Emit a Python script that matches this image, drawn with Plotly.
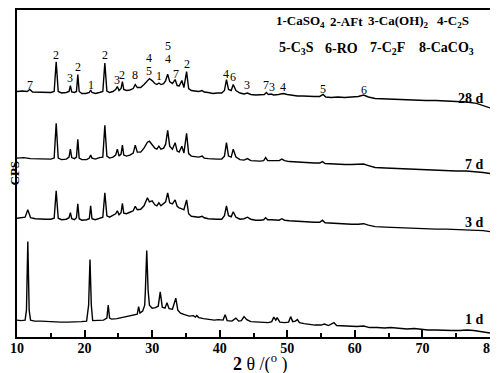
import plotly.graph_objects as go

# 2-theta (deg) and intensity (CPS, already stacked) for each curing age
x_28d = [10.0, 10.8, 11.5, 11.9, 12.3, 13.0, 14.0, 15.0, 15.5, 15.8, 16.1, 16.6, 17.3, 17.7, 17.9, 18.1,
         18.5, 18.8, 19.0, 19.2, 19.6, 20.2, 20.7, 20.9, 21.1, 21.6, 22.2, 22.7, 23.0, 23.3, 23.7, 24.2,
         24.6, 24.85, 25.1, 25.4, 25.6, 25.8, 26.2, 26.7, 27.2, 27.5, 27.8, 28.3, 28.8, 29.3, 29.6, 30.0,
         30.4, 30.7, 31.0, 31.3, 31.7, 32.0, 32.3, 32.6, 33.0, 33.4, 33.7, 34.0, 34.4, 34.7, 35.1, 35.4,
         35.8, 36.3, 36.9, 37.4, 37.7, 38.3, 39.0, 39.6, 40.3, 40.7, 41.0, 41.3, 41.7, 42.0, 42.4, 43.0,
         43.6, 44.1, 44.6, 45.3, 46.0, 46.6, 46.9, 47.2, 47.6, 48.0, 48.7, 49.4, 50.0, 50.7, 51.5, 52.3,
         53.1, 54.0, 54.8, 55.3, 55.7, 56.5, 57.5, 58.5, 59.5, 60.5, 61.3, 62.0, 63.0, 64.5, 66.0, 67.5,
         69.0, 70.5, 72.0, 73.5, 75.0, 76.5, 78.0, 79.0, 80.0]
y_28d = [247, 247.5, 247, 249, 246.5, 246.5, 246, 246, 247, 277, 247, 245.5, 246, 247, 253, 246.5,
         246, 247, 264, 247, 245, 245, 246, 248.5, 246, 245, 246, 247, 275.5, 247.5, 246, 247,
         249, 252, 248, 250, 257, 249, 248, 248.5, 250, 254, 251, 251, 254, 258.5, 260, 258,
         255, 254, 255.5, 254, 255, 258, 264.5, 257, 255, 259, 253, 252.5, 258, 251, 267, 250,
         248, 247.5, 247, 248, 246.5, 246, 245, 245.5, 245.5, 248, 259, 249, 248, 254, 248, 245.5,
         244.5, 245.5, 244, 243.5, 243.5, 244, 246, 244, 244.5, 243.5, 244, 245, 244, 243, 242.5, 242.5,
         242, 242, 242, 244, 241.5, 241, 241.5, 241, 241.5, 242, 243.5, 241.5, 240, 239.5, 239, 239,
         238.5, 238, 238, 237.5, 237, 236.5, 235, 233, 230.5]

x_7d = [10.0, 11.0, 12.0, 13.0, 14.0, 15.0, 15.5, 15.8, 16.1, 16.6, 17.3, 17.7, 17.9, 18.1, 18.5, 18.8,
        19.0, 19.2, 19.6, 20.3, 20.7, 20.9, 21.1, 21.6, 22.2, 22.7, 23.0, 23.3, 23.7, 24.2, 24.6, 24.85,
        25.1, 25.4, 25.6, 25.8, 26.2, 26.7, 27.2, 27.5, 27.8, 28.3, 28.8, 29.3, 29.6, 30.0, 30.4, 30.7,
        31.0, 31.3, 31.7, 32.0, 32.3, 32.6, 33.0, 33.4, 33.7, 34.0, 34.4, 34.7, 35.1, 35.4, 35.8, 36.3,
        36.9, 37.4, 37.7, 38.3, 39.0, 39.6, 40.3, 40.7, 41.0, 41.3, 41.7, 42.0, 42.4, 43.0, 43.6, 44.1,
        44.6, 45.3, 46.0, 46.5, 46.8, 47.1, 47.7, 48.3, 48.8, 49.2, 49.6, 50.3, 51.2, 52.0, 53.0, 54.0,
        54.8, 55.2, 55.6, 56.5, 57.5, 58.5, 59.5, 60.5, 61.3, 62.0, 63.0, 64.5, 66.0, 67.5, 69.0, 70.5,
        72.0, 73.5, 75.0, 76.5, 78.0, 79.0, 80.0]
y_7d = [180, 180.5, 179.5, 179.5, 179, 179, 180, 215, 180, 178.5, 179, 181, 189, 180.5, 179.5, 181,
        199, 180, 178.5, 178.5, 180, 183, 180, 179, 180.5, 181, 213, 182, 180, 181, 183, 189,
        182, 184, 193, 183, 182, 183, 185, 193, 186, 186, 190, 196, 197, 194, 190, 189,
        192, 189, 190, 194, 208, 192, 189, 195.5, 187, 186, 192, 185, 205, 184.5, 182, 181.5,
        181, 182, 180, 179.5, 179, 179, 179, 182, 195.5, 182, 181, 189, 181, 178.5, 178, 179.5,
        177.5, 177, 177, 177.5, 180.5, 177.5, 177.5, 177, 177.5, 179, 177.5, 176.5, 176, 175.5, 175, 175,
        175, 176.5, 174.5, 174, 174, 173.5, 173.5, 173.5, 174, 172.5, 170.5, 170, 169.5, 169, 168.5, 168,
        168, 167.5, 167, 167, 166.5, 165.5, 164.5]

x_3d = [10.0, 10.6, 11.2, 11.6, 12.0, 12.7, 13.5, 14.3, 15.0, 15.5, 15.8, 16.1, 16.6, 17.3, 17.7, 17.9,
        18.1, 18.5, 18.8, 19.0, 19.2, 19.6, 20.3, 20.7, 20.9, 21.1, 21.6, 22.2, 22.7, 23.0, 23.3, 23.7,
        24.2, 24.6, 24.85, 25.1, 25.4, 25.6, 25.8, 26.2, 26.7, 27.2, 27.5, 27.8, 28.3, 28.8, 29.3, 29.6,
        30.0, 30.4, 30.7, 31.0, 31.3, 31.7, 32.0, 32.3, 32.6, 33.0, 33.4, 33.7, 34.0, 34.4, 34.7, 35.1,
        35.4, 35.8, 36.3, 36.9, 37.4, 37.7, 38.3, 39.0, 39.6, 40.3, 40.7, 41.0, 41.3, 41.7, 42.0, 42.4,
        43.0, 43.6, 44.1, 44.6, 45.3, 46.0, 46.5, 46.8, 47.1, 47.7, 48.3, 48.8, 49.2, 49.6, 50.3, 51.2,
        52.0, 53.0, 54.0, 54.8, 55.2, 55.6, 56.5, 57.5, 58.5, 59.5, 60.5, 61.3, 62.0, 63.0, 64.5, 66.0,
        67.5, 69.0, 70.5, 72.0, 73.5, 75.0, 76.5, 78.0, 79.0, 80.0]
y_3d = [119.5, 120, 120.5, 128, 120, 119, 118.5, 118.5, 118.5, 119.5, 147, 119.5, 118, 118.5, 120, 125,
        119, 118, 120, 134, 119, 117.5, 118, 119, 132, 119, 118, 119.5, 120.5, 145, 122, 120.5,
        122, 124, 127, 123, 125, 134.5, 124.5, 124, 125.5, 127, 131.5, 128, 128.5, 132, 140, 136,
        137, 133, 132, 135, 132, 134, 136, 145, 135, 134, 138, 131.5, 130, 129, 128, 138,
        124, 121.5, 121, 120.5, 121.5, 120, 119, 118.5, 118.5, 118.5, 122, 132, 122, 121, 126, 120.5,
        118.5, 119, 120.5, 118.5, 117.5, 117.5, 118, 120, 118, 118, 117.5, 117.5, 119, 117.5, 117, 116.5,
        116, 115.5, 115.5, 115.5, 117.5, 115, 114.5, 114, 114, 113.5, 113.5, 114, 112.5, 111, 110.5, 110,
        109.5, 109, 109, 108.5, 108.5, 108, 108, 107.5, 107, 106]

x_1d = [10.0, 10.6, 11.2, 11.4, 11.6, 11.8, 12.0, 12.6, 13.5, 14.5, 15.5, 16.5, 17.5, 18.5, 19.5, 20.3,
        20.6, 20.8, 21.0, 21.2, 22.0, 22.8, 23.3, 23.5, 23.7, 24.0, 24.8, 25.6, 26.4, 27.2, 27.8, 28.0,
        28.2, 28.6, 28.9, 29.0, 29.2, 29.4, 29.6, 30.0, 30.5, 30.9, 31.2, 31.5, 31.9, 32.2, 32.5, 33.0,
        33.5, 33.8, 34.2, 34.8, 35.5, 36.1, 36.4, 36.6, 36.9, 37.6, 38.4, 39.2, 39.8, 40.5, 40.8, 41.1,
        41.8, 42.4, 42.8, 43.2, 43.6, 44.0, 44.6, 45.5, 46.3, 47.2, 47.7, 48.0, 48.3, 48.5, 48.9, 49.6,
        50.2, 50.5, 50.8, 51.2, 51.5, 51.8, 52.5, 53.3, 54.1, 55.0, 55.5, 56.1, 56.9, 57.3, 58.2, 59.2,
        60.3, 61.3, 62.2, 63.3, 64.4, 65.3, 66.5, 67.7, 68.8, 69.7, 70.8, 72.0, 73.2, 74.4, 75.5, 76.6,
        77.6, 78.5, 79.3, 80.0]
y_1d = [17, 16.5, 17, 27, 96, 27, 17, 16, 16, 15.5, 15.5, 15, 15, 15, 15.5, 16,
        32, 78, 32, 16.5, 16.5, 17, 19, 32, 19, 18, 18.5, 19.5, 20.5, 22, 23, 30.5,
        24, 26, 32, 47, 87, 47, 32, 29, 29.5, 31, 45.5, 30, 29, 34.5, 28.5, 28,
        39, 27, 24, 22.5, 21, 21.5, 20, 21.5, 19.5, 18.5, 17.5, 17, 17.5, 17, 22.5, 16.5,
        16, 19, 16, 16.5, 20.5, 17.5, 15.5, 15, 14.5, 14.5, 15.5, 20, 17, 19.5, 15, 14.5,
        15, 20.5, 15.5, 16, 17.5, 14.5, 13.5, 12.5, 12, 12, 13, 11.5, 14.5, 11.5, 11, 10.5,
        10.5, 11, 9.5, 9.5, 9, 9.5, 8.5, 8, 8.5, 7.5, 7, 7, 6.5, 6.5, 6.5, 7,
        6.5, 5.5, 4.5, 4]

ages = ["28 d", "7 d", "3 d", "1 d"]
age_label_y = [240, 173.7, 115.3, 17.7]

# phase marks above the 28 d pattern
mark_x = [11.9, 15.8, 17.9, 19.0, 20.9, 23.0, 24.85, 25.6, 27.5, 29.5, 29.5, 31.0, 32.3, 32.3,
          33.5, 35.1, 41.0, 42.0, 44.1, 46.8, 47.7, 49.4, 55.3, 61.3]
mark_y = [254, 284, 261, 272, 254, 284, 259, 264, 264, 281, 268, 263, 293, 280,
          265, 275, 265, 262, 254, 254, 252, 252, 250, 249]
mark_text = ["7", "2", "3", "2", "1", "2", "3", "2", "8", "4", "5", "1", "5", "4",
             "7", "2", "4", "6", "3", "7", "3", "4", "5", "6"]

# phase key, two rows
key_row1 = ["1-CaSO<sub>4</sub>", "2-AFt", "3-Ca(OH)<sub>2</sub>", "4-C<sub>2</sub>S"]
key_row2 = ["5-C<sub>3</sub>S", "6-RO", "7-C<sub>2</sub>F", "8-CaCO<sub>3</sub>"]

FONT = "Liberation Serif"
NB = "\u00a0"

# frame placement (the page body shifts the figure by 8 px)
W, H = 490, 365
L, R, T, B = 9, 8, 0, 36
PW = W - L - R


def px_to_paper(px):
    # page x pixel -> paper fraction
    return (px - 8 - L) / PW


fig = go.Figure()
for xs, ys in [(x_28d, y_28d), (x_7d, y_7d), (x_3d, y_3d), (x_1d, y_1d)]:
    fig.add_trace(go.Scatter(x=xs, y=ys, mode="lines",
                             line=dict(color="black", width=1.4), showlegend=False))

ann = []
for mx, my, mt in zip(mark_x, mark_y, mark_text):
    ann.append(dict(x=mx, y=my, xref="x", yref="y", text=mt, showarrow=False,
                    xanchor="center", yanchor="middle",
                    font=dict(family=FONT, size=12, color="black")))
for lab, ly in zip(ages, age_label_y):
    ann.append(dict(x=79.4, y=ly, xref="x", yref="y", text=f"<b>{lab}</b>", showarrow=False,
                    xanchor="right", yanchor="middle",
                    font=dict(family=FONT, size=14, color="black")))

for row, starts, yp, fs in [(key_row1, [274, 328, 366, 435], 0.9635, 13),
                            (key_row2, [277, 323, 368, 417], 0.8815, 14)]:
    for txt, sx in zip(row, starts):
        ann.append(dict(x=px_to_paper(sx), y=yp, xref="paper", yref="paper",
                        xanchor="left", yanchor="middle", showarrow=False,
                        text=f"<b>{txt}</b>", font=dict(family=FONT, size=fs, color="black")))

ann.append(dict(x=px_to_paper(14), y=0.5, xref="paper", yref="paper", xanchor="center", yanchor="middle",
                textangle=-90, showarrow=False,
                text="<b>CPS</b>", font=dict(family=FONT, size=13, color="black")))
ann.append(dict(x=px_to_paper(260), y=-0.08, xref="paper", yref="paper", xanchor="center", yanchor="middle",
                showarrow=False,
                text=f"<b>2</b> θ /(<sup>o</sup>{NB})", font=dict(family=FONT, size=18, color="black")))

fig.update_layout(
    width=W, height=H,
    margin=dict(l=L, r=R, t=T, b=B),
    plot_bgcolor="white", paper_bgcolor="white",
    annotations=ann,
    xaxis=dict(
        range=[10, 80], dtick=10, tick0=10,
        showgrid=False, zeroline=False,
        showline=True, linecolor="black", linewidth=2, mirror=True,
        ticks="inside", ticklen=7, tickwidth=1.5, tickcolor="black",
        ticklabelstandoff=-3, ticklabeloverflow="allow",
        minor=dict(dtick=5, ticks="inside", ticklen=4, tickwidth=1.5, tickcolor="black"),
        tickfont=dict(family=FONT, size=14, color="black", weight="bold"),
    ),
    yaxis=dict(
        range=[0, 329], showticklabels=False, ticks="",
        showgrid=False, zeroline=False,
        showline=True, linecolor="black", linewidth=2, mirror=True,
    ),
)

fig.write_html("out.html")
